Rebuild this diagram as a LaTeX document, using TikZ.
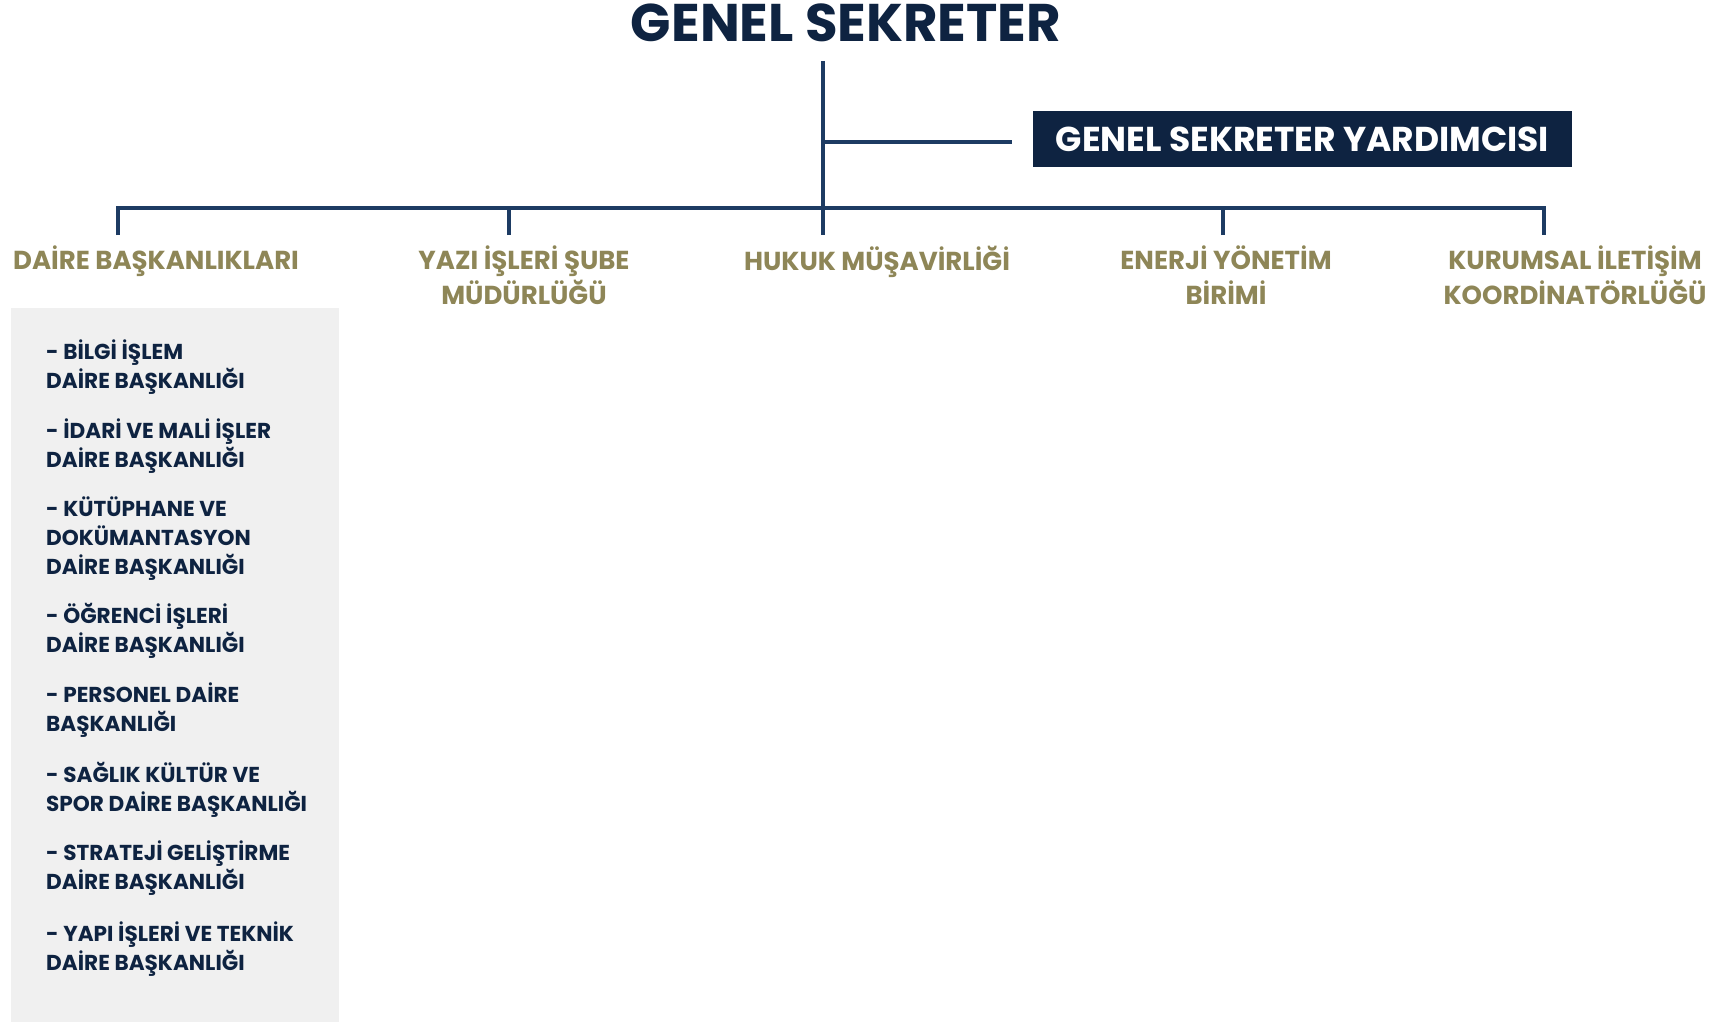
\documentclass[tikz,border=0pt]{standalone}
\usepackage{fontspec}
\setmainfont{Poppins}
\definecolor{navy}{HTML}{0E2341}
\definecolor{linenavy}{HTML}{1D3B63}
\definecolor{olive}{HTML}{8E8657}
\definecolor{panel}{HTML}{F0F0F0}
\begin{document}
\begin{tikzpicture}
        [x=1pt,y=-1pt,
        title/.style={font=\fontsize{53}{56}\selectfont\bfseries,text=navy,inner sep=0pt},
        deputy/.style={fill=navy,text=white,font=\fontsize{34.5}{36}\selectfont\bfseries,
            minimum width=539pt,minimum height=56pt,inner sep=0pt},
        unit/.style={font=\fontsize{26}{34.5}\selectfont\bfseries,text=olive,align=center,inner sep=0pt},
        item/.style={font=\fontsize{21.6}{28.7}\selectfont\bfseries,text=navy,align=left,inner sep=0pt},
        line/.style={draw=linenavy,line width=4.5pt}]
        \useasboundingbox (0,0) rectangle (1729,1022);
        \fill[panel] (11,308) rectangle (339,1022);
        % top
        \node[title,anchor=base] (gs) at (846,42) {GENEL SEKRETER};
        \node[deputy] (gsy) at (1302.5,139) {GENEL SEKRETER YARDIMCISI};
        % units
        \node[unit,anchor=north] (db) at (156,246) {DAİRE BAŞKANLIKLARI};
        \node[unit,anchor=north] (yis) at (524,246) {YAZI İŞLERİ ŞUBE\\MÜDÜRLÜĞÜ};
        \node[unit,anchor=north] (hm) at (877,246) {HUKUK MÜŞAVİRLİĞİ};
        \node[unit,anchor=north] (eyb) at (1226,246) {ENERJİ YÖNETİM\\BİRİMİ};
        \node[unit,anchor=north] (kik) at (1575,246) {KURUMSAL İLETİŞİM\\KOORDİNATÖRLÜĞÜ};
        % connectors
        \coordinate (top) at (823,61);
        \coordinate (fork) at (823,142);
        \coordinate (hub) at (823,208);
        \coordinate (t1) at (118,235);
        \coordinate (t2) at (509,235);
        \coordinate (t3) at (823,235);
        \coordinate (t4) at (1223,235);
        \coordinate (t5) at (1544,235);
        \draw[line] (top) -- (t3);
        \draw[line,shorten >=21pt] (fork) -- (fork -| gsy.west);
        \draw[line] (t1) |- (hub) -| (t5);
        \draw[line] (t2) -- (t2 |- hub);
        \draw[line] (t4) -- (t4 |- hub);
        % daire baskanliklari list
        \node[item,anchor=north west] (i1) at (46,340) {- BİLGİ İŞLEM\\DAİRE BAŞKANLIĞI};
        \node[item,anchor=north west] (i2) at (46,419) {- İDARİ VE MALİ İŞLER\\DAİRE BAŞKANLIĞI};
        \node[item,anchor=north west] (i3) at (46,497) {- KÜTÜPHANE VE\\DOKÜMANTASYON\\DAİRE BAŞKANLIĞI};
        \node[item,anchor=north west] (i4) at (46,603) {- ÖĞRENCİ İŞLERİ\\DAİRE BAŞKANLIĞI};
        \node[item,anchor=north west] (i5) at (46,683) {- PERSONEL DAİRE\\BAŞKANLIĞI};
        \node[item,anchor=north west] (i6) at (46,762) {- SAĞLIK KÜLTÜR VE\\SPOR DAİRE BAŞKANLIĞI};
        \node[item,anchor=north west] (i7) at (46,841) {- STRATEJİ GELİŞTİRME\\DAİRE BAŞKANLIĞI};
        \node[item,anchor=north west] (i8) at (46,922) {- YAPI İŞLERİ VE TEKNİK\\DAİRE BAŞKANLIĞI};
    \end{tikzpicture}
\end{document}
